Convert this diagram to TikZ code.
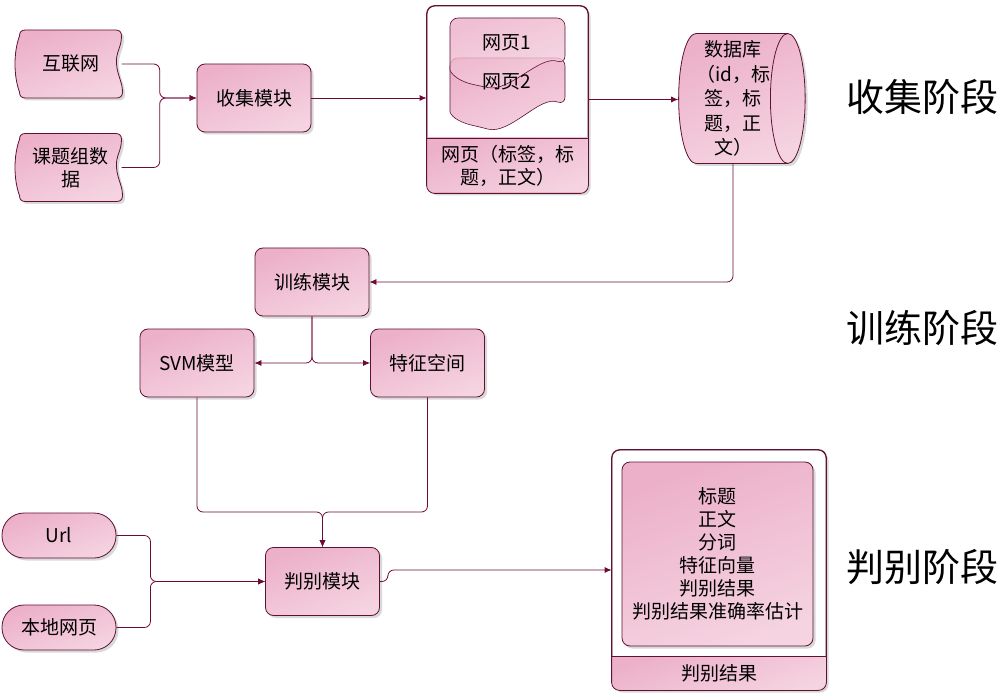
\documentclass[tikz,border=0pt]{standalone}
\usepackage{fontspec}
\newfontfamily\cjk{Noto Sans CJK SC}
\usepackage{tikz}
\usetikzlibrary{shapes, shapes.geometric, shadows, arrows.meta, backgrounds}

\definecolor{boxpinkA}{HTML}{ECB0C8}
\definecolor{boxpinkB}{HTML}{F5D3E1}
\definecolor{edgemaroon}{HTML}{5E1232}
\definecolor{linemaroon}{HTML}{6E0A35}

\newcommand{\tapeoutline}[1]{%
	\begin{scope}[shift={(#1.center)}]
		\path[tapebox] (-45,-34) -- (45,-34) .. controls (49,-34) and (51,-32) .. (51,-28)
			.. controls (51,-16) and (45,-12) .. (46,0) .. controls (47,12) and (52,18) .. (52,28)
			.. controls (52,32) and (50,34) .. (46,34) -- (-45,34)
			.. controls (-49,34) and (-51,32) .. (-51,28)
			.. controls (-57,12) and (-57,-12) .. (-51,-28)
			.. controls (-51,-32) and (-49,-34) .. (-45,-34) -- cycle;
	\end{scope}}

\begin{document}
\begin{tikzpicture}[x=1pt, y=-1pt]
		\tikzstyle{every node}=[font=\cjk\fontsize{19}{23}\selectfont, text=black]
		\tikzstyle{pinkfill}=[top color=boxpinkA, bottom color=boxpinkB, shading angle=20]
		\tikzstyle{boxshadow}=[drop shadow={shadow xshift=2.5pt, shadow yshift=-2.5pt, opacity=0.25, fill=black!60}]
		\tikzstyle{module}=[rectangle, rounded corners=8pt, draw=edgemaroon, line width=0.8pt, pinkfill, boxshadow, minimum width=114pt, minimum height=68pt, align=center, inner sep=0pt]
		\tikzstyle{pill}=[module, rounded corners=22pt, minimum height=45pt]
		\tikzstyle{tapebox}=[draw=edgemaroon, line width=0.8pt, pinkfill, boxshadow]
		\tikzstyle{tapetext}=[minimum width=102pt, minimum height=68pt, inner sep=0pt, align=center]
		\tikzstyle{holder}=[rectangle, rounded corners=8pt, draw=edgemaroon, line width=0.8pt, fill=white, boxshadow, inner sep=0pt]
		\tikzstyle{docpage}=[draw=edgemaroon, line width=0.6pt, pinkfill, rounded corners=8pt]
		\tikzstyle{flow}=[draw=linemaroon, line width=0.8pt, rounded corners=6pt, -{Latex[length=7pt, width=6pt]}]
		\tikzstyle{stage}=[font=\cjk\fontsize{38}{44}\selectfont]

		\useasboundingbox (0,0) rectangle (1000,700);

		% collecting stage
		\node[tapetext] (inet) at (70.5,64) {互联网};
		\node[tapetext] (group) at (70.5,167.5) {课题组数\\据};
		\begin{pgfonlayer}{background}
			\tapeoutline{inet}
			\tapeoutline{group}
		\end{pgfonlayer}

		\node[module] (collect) at (254,98) {收集模块};

		\node[holder, minimum width=161pt, minimum height=187pt] (webbox) at (507.5,99.5) {};
		\begin{scope}
			\clip[rounded corners=8pt] (webbox.north west) rectangle (webbox.south east);
			\fill[pinkfill] (427,138) rectangle (588,193);
		\end{scope}
		\draw[edgemaroon, line width=0.8pt, rounded corners=8pt] (webbox.north west) rectangle (webbox.south east);
		\draw[edgemaroon, line width=0.8pt] (427,138) -- (588,138);
		\path[docpage] (450,112) -- (450,58) -- (565,58) -- (565,105)
			.. controls (540,95) and (510,135) .. (480,127)
			.. controls (462,123) and (452,118) .. (450,112);
		\path[docpage, fill opacity=0.8] (450,70) -- (450,18) -- (565,18) -- (565,64)
			.. controls (540,55) and (510,92) .. (480,86)
			.. controls (462,82) and (452,76) .. (450,70);
		\node (page1) at (507,43) {网页1};
		\node (page2) at (507,82) {网页2};
		\node[align=center] (webcap) at (507.5,166) {网页（标签，标\\题，正文）};

		\node[cylinder, draw=edgemaroon, line width=0.8pt, pinkfill, boxshadow, minimum width=130pt, minimum height=123pt, aspect=0.3, inner sep=0pt, align=center, font=\cjk\fontsize{19}{24.5}\selectfont] (db) at (733,98.5) {数据库\\（id，标\\签，标\\题，正\\文）};

		% training stage
		\node[module] (train) at (312,282) {训练模块};
		\node[module] (svm) at (197,363) {SVM模型};
		\node[module] (feature) at (427.5,363) {特征空间};

		% judging stage
		\node[pill] (url) at (59,535.5) {Url};
		\node[pill] (local) at (59,627.5) {本地网页};
		\node[module] (judge) at (322.5,581.5) {判别模块};
		\coordinate (merge) at (322.5,512);

		\node[holder, minimum width=214pt, minimum height=240pt] (resbox) at (719,570) {};
		\begin{scope}
			\clip[rounded corners=8pt] (resbox.north west) rectangle (resbox.south east);
			\fill[pinkfill] (612,656) rectangle (826,690);
		\end{scope}
		\draw[edgemaroon, line width=0.8pt, rounded corners=8pt] (resbox.north west) rectangle (resbox.south east);
		\draw[edgemaroon, line width=0.8pt] (612,656) -- (826,656);
		\node[module, minimum width=191pt, minimum height=184pt] (resinner) at (717.5,554) {标题\\正文\\分词\\特征向量\\判别结果\\判别结果准确率估计};
		\node (rescap) at (719,673) {判别结果};

		\node[stage] (stageA) at (922,97) {收集阶段};
		\node[stage] (stageB) at (922,328) {训练阶段};
		\node[stage] (stageC) at (922,567) {判别阶段};

		\draw[flow] (inet.east) -- ++(38,0) |- (collect.west);
		\draw[flow] (group.east) -- ++(38,0) |- (collect.west);
		\draw[flow] (collect.east) -- (collect.east -| webbox.west);
		\draw[flow] (webbox.east) -- (webbox.east -| db.west);
		\draw[flow] (db.south) |- (train.east);
		\draw[flow] (train.south) |- (svm.east);
		\draw[flow] (train.south) |- (feature.west);
		\draw[flow] (svm.south) |- (merge) -- (judge.north);
		\draw[flow] (feature.south) |- (merge) -- (judge.north);
		\draw[flow] (url.east) -- ++(34,0) |- (judge.west);
		\draw[flow] (local.east) -- ++(34,0) |- (judge.west);
		\draw[flow] (judge.east) -- ++(8,0) |- (resbox.west);

	\end{tikzpicture}
\end{document}
